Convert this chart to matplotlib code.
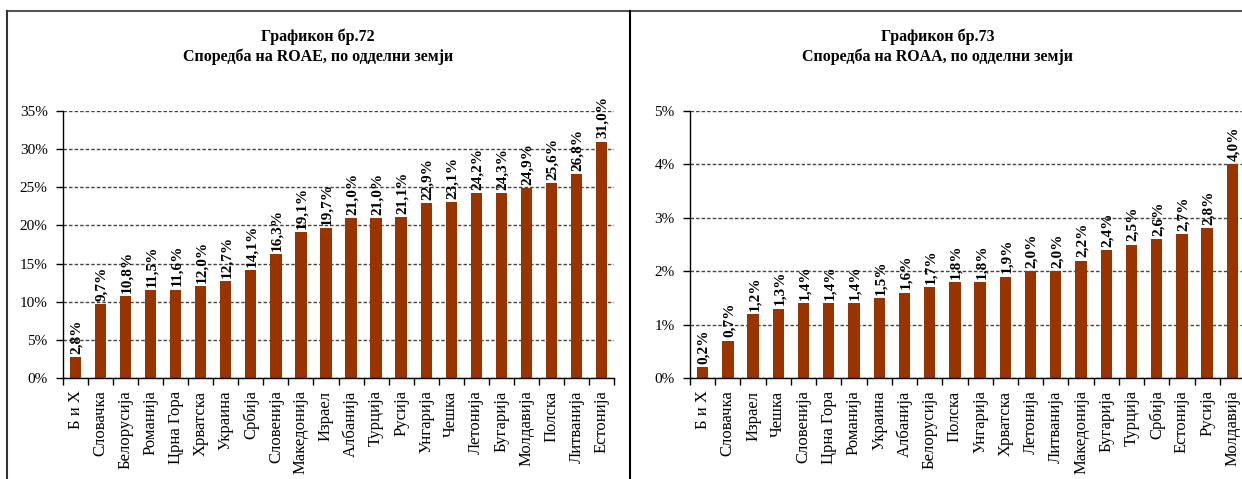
import numpy as np
import matplotlib
matplotlib.use('Agg')
import matplotlib.pyplot as plt
from matplotlib.lines import Line2D
from matplotlib.ticker import FixedLocator

plt.rcParams['font.family'] = ['Liberation Serif', 'DejaVu Serif']

# ROAE by country (Графикон бр.72)
roae_countries = ['Б и Х', 'Словачка', 'Белорусија', 'Романија', 'Црна Гора', 'Хрватска',
                  'Украина', 'Србија', 'Словенија', 'Македонија', 'Израел', 'Албанија',
                  'Турција', 'Русија', 'Унгарија', 'Чешка', 'Летонија', 'Бугарија',
                  'Молдавија', 'Полска', 'Литванија', 'Естонија']
roae_values = [2.8, 9.7, 10.8, 11.5, 11.6, 12.0, 12.7, 14.1, 16.3, 19.1, 19.7, 21.0,
               21.0, 21.1, 22.9, 23.1, 24.2, 24.3, 24.9, 25.6, 26.8, 31.0]
roae_ticks = [0, 5, 10, 15, 20, 25, 30, 35]

# ROAA by country (Графикон бр.73)
roaa_countries = ['Б и Х', 'Словачка', 'Израел', 'Чешка', 'Словенија', 'Црна Гора',
                  'Романија', 'Украина', 'Албанија', 'Белорусија', 'Полска', 'Унгарија',
                  'Хрватска', 'Летонија', 'Литванија', 'Македонија', 'Бугарија', 'Турција',
                  'Србија', 'Естонија', 'Русија', 'Молдавија']
roaa_values = [0.2, 0.7, 1.2, 1.3, 1.4, 1.4, 1.4, 1.5, 1.6, 1.7, 1.8, 1.8, 1.9, 2.0,
               2.0, 2.2, 2.4, 2.5, 2.6, 2.7, 2.8, 4.0]
roaa_ticks = [0, 1, 2, 3, 4, 5]

bar_color = '#993300'
W, H = 1242, 479


def draw_panel(ax, countries, values, ticks, label_off):
    x = np.arange(len(countries))
    ax.bar(x, values, width=0.45, color=bar_color, zorder=3)
    ax.set_xlim(-0.5, len(countries) - 0.5)
    ax.set_ylim(0, ticks[-1])
    ax.set_yticks(ticks)
    ax.set_yticklabels([f'{t}%' for t in ticks], fontsize=11)
    ax.set_xticks(x)
    ax.set_xticklabels(countries, rotation=90, fontsize=12)
    ax.tick_params(axis='x', length=0, pad=9)
    # tick marks sit between the categories
    ax.xaxis.set_minor_locator(FixedLocator(np.arange(-0.5, len(countries), 1.0)))
    ax.tick_params(axis='x', which='minor', length=5, direction='out', width=1)
    ax.tick_params(axis='y', length=5, direction='out', width=1, pad=6)
    ax.yaxis.grid(True, linestyle=(0, (2.5, 1.5)), color='#444444', linewidth=1, zorder=0)
    ax.set_axisbelow(True)
    for s in ['top', 'right']:
        ax.spines[s].set_visible(False)
    for s in ['left', 'bottom']:
        ax.spines[s].set_color('black')
        ax.spines[s].set_linewidth(1)
        ax.spines[s].set_zorder(4)
    for xi, v in zip(x, values):
        ax.text(xi + 0.05, v + label_off, f'{v:.1f}'.replace('.', ',') + '%',
                rotation=90, ha='center', va='bottom', fontsize=11,
                fontweight='bold', zorder=5)


fig = plt.figure(figsize=(W / 100, H / 100), dpi=100)

ax1 = fig.add_axes([63 / W, 1 - 378 / H, (614 - 63) / W, (378 - 111) / H])
draw_panel(ax1, roae_countries, roae_values, roae_ticks, 0.4)
ax2 = fig.add_axes([690 / W, 1 - 378 / H, (1245 - 690) / W, (378 - 111) / H])
draw_panel(ax2, roaa_countries, roaa_values, roaa_ticks, 0.06)

fig.text(318 / W, 1 - 47 / H, 'Графикон бр.72\nСпоредба на ROAE, по одделни земји',
         ha='center', va='center', fontsize=11.5, fontweight='bold', linespacing=1.25)
fig.text(938 / W, 1 - 47 / H, 'Графикон бр.73\nСпоредба на ROAA, по одделни земји',
         ha='center', va='center', fontsize=11.5, fontweight='bold', linespacing=1.25)

# panel frames
fig.add_artist(Line2D([7 / W, 1], [1 - 11 / H, 1 - 11 / H], color='#555555', lw=1.5))
fig.add_artist(Line2D([7 / W, 7 / W], [0, 1 - 11 / H], color='#333333', lw=1.5))
fig.add_artist(Line2D([630 / W, 630 / W], [0, 1 - 11 / H], color='black', lw=1.5))

fig.savefig('out.png', dpi=100)
